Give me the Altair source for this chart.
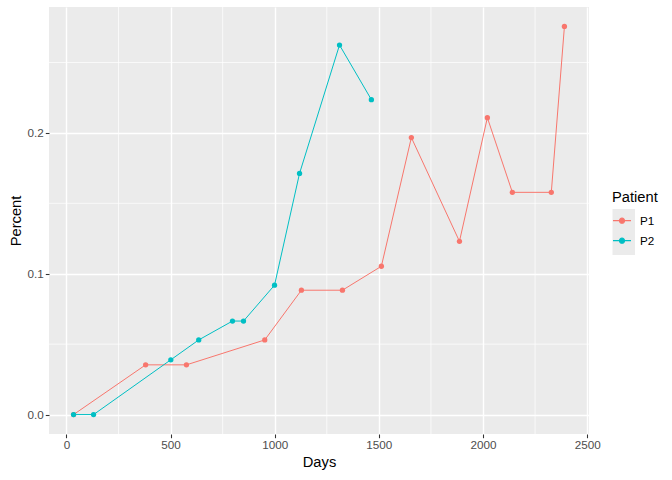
import altair as alt
import pandas as pd

p1_days = [34, 380, 576, 952, 1128, 1325, 1512, 1656, 1887, 2021, 2141, 2328, 2391]
p1_pct = [0.0, 0.0353, 0.0353, 0.053, 0.0883, 0.0883, 0.1053, 0.1967, 0.123, 0.2108, 0.1578, 0.1578, 0.2756]
p2_days = [34, 130, 501, 635, 797, 850, 999, 1119, 1311, 1464]
p2_pct = [0.0, 0.0, 0.0389, 0.053, 0.0664, 0.0664, 0.0919, 0.1712, 0.2624, 0.2236]

x_major = [0, 500, 1000, 1500, 2000, 2500]
x_minor = [250, 750, 1250, 1750, 2250]
y_major = [0.0, 0.1, 0.2]
y_minor = [0.05, 0.15, 0.25]

df = pd.DataFrame({
    "Days": p1_days + p2_days,
    "Percent": p1_pct + p2_pct,
    "Patient": ["P1"] * len(p1_days) + ["P2"] * len(p2_days),
})

FONT = "Liberation Sans"
xdom = [-84, 2509]
ydom = [-0.0138, 0.2894]

xs = alt.Scale(domain=xdom, nice=False, zero=False)
ys = alt.Scale(domain=ydom, nice=False, zero=False)

xaxis = alt.Axis(values=x_major, format="d", grid=True, gridColor="white", gridWidth=1.42,
                 domain=False, tickColor="#333333", tickSize=3.7, tickWidth=1.07,
                 labelColor="#4D4D4D", labelFontSize=11.7, labelFont=FONT, labelPadding=2,
                 title="Days", titleFont=FONT, titleFontSize=14.7, titleFontWeight="normal",
                 titleColor="black", titlePadding=3, labelFlush=False)
yaxis = alt.Axis(values=y_major, format=".1f", grid=True, gridColor="white", gridWidth=1.42,
                 domain=False, tickColor="#333333", tickSize=3.7, tickWidth=1.07,
                 labelColor="#4D4D4D", labelFontSize=11.7, labelFont=FONT, labelPadding=2,
                 title="Percent", titleFont=FONT, titleFontSize=14.7, titleFontWeight="normal",
                 titleColor="black", titlePadding=4, labelFlush=False)

color = alt.Color("Patient:N",
                  scale=alt.Scale(domain=["P1", "P2"], range=["#F8766D", "#00BFC4"]),
                  legend=alt.Legend(
                      title="Patient", orient="none", legendX=563, legendY=183,
                      titleFont=FONT, titleFontSize=14.7, titleFontWeight="normal", titleColor="black",
                      titlePadding=6,
                      labelFont=FONT, labelFontSize=11.7, labelColor="black",
                      symbolType="M-1,0L1,0M-0.28,0A0.28,0.28,0,1,1,0.28,0A0.28,0.28,0,1,1,-0.28,0Z",
                      symbolSize=324, symbolStrokeWidth=1.2, symbolOpacity=1,
                      rowPadding=3, labelOffset=8, symbolOffset=0))

minor_x = alt.Chart(pd.DataFrame({"v": x_minor})).mark_rule(color="white", strokeWidth=0.71).encode(
    x=alt.X("v:Q", scale=xs, axis=xaxis))
minor_y = alt.Chart(pd.DataFrame({"v": y_minor})).mark_rule(color="white", strokeWidth=0.71).encode(
    y=alt.Y("v:Q", scale=ys, axis=yaxis))

keybg = alt.Chart(pd.DataFrame({"k": [0]})).mark_rect(color="#EBEBEB").encode(
    x=alt.value(563.5), x2=alt.value(586), y=alt.value(202), y2=alt.value(248))

base = alt.Chart(df).encode(
    x=alt.X("Days:Q", scale=xs, axis=xaxis),
    y=alt.Y("Percent:Q", scale=ys, axis=yaxis),
    color=color,
)
lines = base.mark_line(strokeWidth=1.0)
points = base.mark_point(filled=True, size=28, opacity=1)

chart = alt.layer(minor_x, minor_y, keybg, lines, points).properties(
    width=540, height=427,
    padding={"left": 49, "top": 7, "right": 83, "bottom": 46},
    autosize=alt.AutoSizeParams(type="none"),
    background="white",
).configure_view(fill="#EBEBEB", strokeWidth=0)

chart.save("out.html", embed_options={"renderer": "svg", "actions": False})
